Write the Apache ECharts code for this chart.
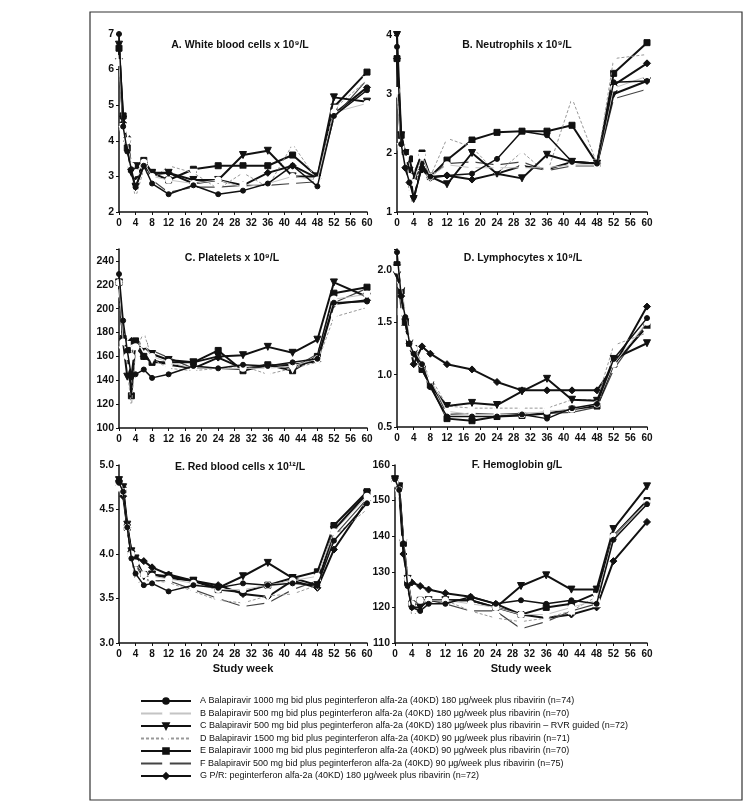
<!DOCTYPE html>
<html><head><meta charset="utf-8">
<script src="https://cdn.jsdelivr.net/npm/echarts@6/dist/echarts.min.js"></script>
<style>html,body{margin:0;padding:0;background:#fff}#c{width:750px;height:809px}</style>
</head><body><div id="c"></div>
<script>
const weeks = [0,1,2,3,4,6,8,12,18,24,30,36,42,48,52,60];
const xTicks = [0,4,8,12,16,20,24,28,32,36,40,44,48,52,56,60];
const groupNames = [
 'A Balapiravir 1000 mg bid plus peginterferon alfa-2a (40KD) 180 μg/week plus ribavirin (n=74)',
 'B Balapiravir 500 mg bid plus peginterferon alfa-2a (40KD) 180 μg/week plus ribavirin (n=70)',
 'C Balapiravir 500 mg bid plus peginterferon alfa-2a (40KD) 180 μg/week plus ribavirin – RVR guided (n=72)',
 'D Balapiravir 1500 mg bid plus peginterferon alfa-2a (40KD) 90 μg/week plus ribavirin (n=71)',
 'E Balapiravir 1000 mg bid plus peginterferon alfa-2a (40KD) 90 μg/week plus ribavirin (n=70)',
 'F Balapiravir 500 mg bid plus peginterferon alfa-2a (40KD) 90 μg/week plus ribavirin (n=75)',
 'G P/R: peginterferon alfa-2a (40KD) 180 μg/week plus ribavirin (n=72)'
];
const panelTitles = ['A. White blood cells x 10⁹/L','B. Neutrophils x 10⁹/L','C. Platelets x 10⁹/L','D. Lymphocytes x 10⁹/L','E. Red blood cells x 10¹²/L','F. Hemoglobin g/L'];

// A. White blood cells
const wbc_A = [7.0,4.4,3.7,3.2,2.7,3.3,2.8,2.5,2.75,2.5,2.6,2.8,3.3,2.72,4.7,5.42];
const wbc_B = [6.2,4.3,4.0,3.3,3.1,3.4,3.0,2.9,2.8,2.9,2.7,2.8,3.0,2.9,4.8,5.05];
const wbc_C = [6.7,4.6,3.9,3.1,2.7,3.3,3.1,3.1,2.9,2.9,3.6,3.72,3.0,3.0,5.22,5.1];
const wbc_D = [6.3,4.3,4.2,2.95,2.4,3.2,2.9,3.3,3.1,2.65,3.1,2.7,3.9,2.9,4.9,5.7];
const wbc_E = [6.6,4.7,3.8,3.2,3.3,3.45,3.1,2.9,3.2,3.3,3.3,3.3,3.6,3.0,4.95,5.93];
const wbc_F = [6.2,4.4,4.0,3.4,3.2,3.5,2.9,2.55,2.7,2.7,2.75,2.75,2.8,2.85,4.65,5.72];
const wbc_G = [6.3,4.5,4.1,3.2,3.0,3.3,3.05,3.1,2.8,2.9,2.75,3.1,3.3,2.95,4.75,5.5];
// B. Neutrophils
const neu_A = [3.8,2.15,1.75,1.5,1.25,1.75,1.6,1.62,1.65,1.9,2.37,2.3,1.85,1.82,3.2,3.22];
const neu_B = [3.05,2.1,1.9,1.6,1.5,1.95,1.6,1.8,1.75,1.75,1.75,1.75,1.8,1.8,3.1,3.3];
const neu_C = [4.0,2.3,2.0,1.7,1.22,1.8,1.6,1.47,2.0,1.65,1.57,1.97,1.85,1.82,3.0,3.22];
const neu_D = [3.05,2.1,1.9,1.3,1.1,1.95,1.6,2.25,2.1,1.65,2.02,1.65,2.93,1.82,3.6,3.67];
const neu_E = [3.6,2.3,2.0,1.9,1.6,2.0,1.6,1.88,2.22,2.35,2.37,2.37,2.47,1.82,3.35,3.87];
const neu_F = [3.0,2.1,1.85,1.75,1.65,2.0,1.6,1.82,1.85,1.8,1.85,1.7,1.78,1.78,2.92,3.08];
const neu_G = [3.6,2.15,1.75,1.5,1.6,1.72,1.58,1.62,1.55,1.65,1.78,1.72,1.85,1.82,3.15,3.52];
// C. Platelets
const plt_A = [229,190,165,143,145,149,142,145,152,150,153,152,155,158,205,206];
const plt_B = [222,172,160,160,168,170,160,155,150,150,150,150,152,158,208,212];
const plt_C = [222,172,143,143,170,168,162,157,155,160,161,168,163,174,222,210];
const plt_D = [213,165,150,117,165,180,158,150,148,150,152,145,150,155,193,201];
const plt_E = [222,175,165,127,173,160,155,155,155,165,148,153,148,160,213,218];
const plt_F = [213,170,170,160,176,167,165,159,150,150,149,154,150,162,205,217];
const plt_G = [222,172,165,173,168,160,157,153,150,159,150,152,153,156,204,207];
// D. Lymphocytes
const lym_A = [2.17,1.75,1.55,1.3,1.2,1.1,0.88,0.6,0.6,0.6,0.62,0.58,0.68,0.72,1.15,1.54];
const lym_B = [2.0,1.85,1.6,1.35,1.25,1.1,0.95,0.65,0.62,0.62,0.62,0.65,0.67,0.72,1.1,1.5];
const lym_C = [1.95,1.8,1.5,1.3,1.2,1.05,0.9,0.7,0.73,0.71,0.84,0.96,0.76,0.75,1.15,1.3];
const lym_D = [2.0,1.85,1.55,1.35,1.3,1.1,0.98,0.7,0.68,0.68,0.68,0.68,0.76,0.76,1.28,1.4];
const lym_E = [2.05,1.8,1.5,1.3,1.25,1.05,0.9,0.58,0.56,0.6,0.61,0.63,0.67,0.7,1.1,1.46];
const lym_F = [2.03,1.6,1.45,1.27,1.2,1.1,0.95,0.62,0.63,0.62,0.63,0.63,0.64,0.69,1.05,1.5];
const lym_G = [2.05,1.75,1.47,1.3,1.1,1.27,1.2,1.1,1.05,0.93,0.85,0.85,0.85,0.85,1.08,1.65];
// E. Red blood cells
const rbc_A = [4.8,4.7,4.3,3.95,3.78,3.65,3.67,3.58,3.65,3.62,3.67,3.65,3.67,3.65,4.15,4.57];
const rbc_B = [4.75,4.7,4.3,4.0,3.9,3.77,3.75,3.72,3.67,3.6,3.6,3.65,3.7,3.75,4.25,4.65];
const rbc_C = [4.83,4.75,4.33,4.03,3.95,3.75,3.77,3.75,3.7,3.62,3.75,3.9,3.73,3.65,4.27,4.68];
const rbc_D = [4.75,4.7,4.27,3.95,3.67,3.7,3.7,3.68,3.58,3.48,3.45,3.53,3.55,3.65,4.2,4.5];
const rbc_E = [4.8,4.72,4.3,4.0,3.9,3.77,3.77,3.73,3.7,3.6,3.57,3.65,3.73,3.8,4.32,4.7];
const rbc_F = [4.77,4.75,4.3,3.95,3.88,3.72,3.7,3.7,3.6,3.5,3.41,3.45,3.6,3.7,4.2,4.62];
const rbc_G = [4.82,4.65,4.3,4.03,3.95,3.92,3.85,3.77,3.7,3.65,3.55,3.52,3.7,3.62,4.05,4.6];
// F. Hemoglobin
const hgb_A = [156,153,138,126,120,119,121,121,123,121,122,121,122,121,139,149];
const hgb_B = [155,153,139,128,121,122,122,122,121,120,118,118,120,122,140,149.5];
const hgb_C = [156,154,138,128,120,120,122,122,122,120,126,129,125,125,142,154];
const hgb_D = [155,152,139,130,117,120,122,122,119,117,116,117,119,123,139,149];
const hgb_E = [156,154,138,127,121,122,122,122,122,120,118,120,121,124,140,150];
const hgb_F = [155,152,139,125,120,122,122,121,119,119,114,116,119,121,140,150];
const hgb_G = [156,153,135,128,127,126,125,124,123,121,118,117,118,120,133,144];

const panels = [
  [wbc_A,wbc_B,wbc_C,wbc_D,wbc_E,wbc_F,wbc_G],
  [neu_A,neu_B,neu_C,neu_D,neu_E,neu_F,neu_G],
  [plt_A,plt_B,plt_C,plt_D,plt_E,plt_F,plt_G],
  [lym_A,lym_B,lym_C,lym_D,lym_E,lym_F,lym_G],
  [rbc_A,rbc_B,rbc_C,rbc_D,rbc_E,rbc_F,rbc_G],
  [hgb_A,hgb_B,hgb_C,hgb_D,hgb_E,hgb_F,hgb_G]
];
const yRanges = [[2,7,1,0],[1,4,1,0],[100,250,20,0],[0.5,2.2,0.5,1],[3,5,0.5,1],[110,160,10,0]];
const gridPos = [
  {left:119,top:34,width:248,height:178},
  {left:397,top:35,width:250,height:177},
  {left:119,top:249,width:248,height:179},
  {left:397,top:249,width:250,height:178},
  {left:119,top:465,width:248,height:178},
  {left:395,top:465,width:252,height:178}
];
const titlePos = [[240,45],[517,45],[232,258],[523,258],[240,467],[517,465]];

const styles = [
  {symbol:'circle', size:5, color:'#111', width:1.5, type:'solid', rot:0},
  {symbol:'emptyCircle', size:5, color:'#c4c4c4', width:1, type:'solid', rot:0},
  {symbol:'triangle', size:7, color:'#111', width:2, type:'solid', rot:180},
  {symbol:'emptyTriangle', size:6, color:'#999', width:1, type:[3,2], rot:180},
  {symbol:'rect', size:6, color:'#111', width:2, type:'solid', rot:0},
  {symbol:'emptyRect', size:5, color:'#444', width:1.2, type:'solid', rot:0},
  {symbol:'diamond', size:7, color:'#111', width:2, type:'solid', rot:0}
];
const FONT = 'Liberation Sans, Arial, sans-serif';

const grid=[], xAxis=[], yAxis=[], series=[], graphic=[];
gridPos.forEach((g,i)=>{
  grid.push(Object.assign({containLabel:false},g));
  xAxis.push({type:'value', gridIndex:i, min:0, max:60, interval:4,
    axisLine:{lineStyle:{color:'#111',width:1.5}},
    axisTick:{show:true,length:3,lineStyle:{color:'#111'}},
    splitLine:{show:false},
    axisLabel:{color:'#111',fontSize:10,fontWeight:'bold',fontFamily:FONT,margin:6},
    name: i>=4 ? 'Study week' : '', nameLocation:'middle', nameGap:20,
    nameTextStyle:{color:'#111',fontSize:11,fontWeight:'bold',fontFamily:FONT}
  });
  const [mn,mx,iv,dec] = yRanges[i];
  yAxis.push({type:'value', gridIndex:i, min:mn, max:mx, interval:iv,
    axisLine:{show:true,lineStyle:{color:'#111',width:1.5}},
    axisTick:{show:true,length:3,lineStyle:{color:'#111'}},
    splitLine:{show:false},
    axisLabel:{color:'#111',fontSize:10.5,fontWeight:'bold',fontFamily:FONT,margin:5,
      formatter:(v)=>{ const r=(v-mn)/iv; if (Math.abs(r-Math.round(r))>1e-6) return ''; return dec? v.toFixed(dec): String(v); }}
  });
  graphic.push({type:'text', x:titlePos[i][0], y:titlePos[i][1],
    style:{text:panelTitles[i], fill:'#111', font:'bold 10.5px '+FONT, textAlign:'center', textVerticalAlign:'middle'}});
  panels[i].forEach((arr,k)=>{
    const s = styles[k];
    series.push({type:'line', name:groupNames[k], xAxisIndex:i, yAxisIndex:i,
      data: weeks.map((w,j)=>[w,arr[j]]),
      symbol:s.symbol, symbolSize:s.size, symbolRotate:s.rot,
      lineStyle:{color:s.color,width:s.width,type:s.type},
      itemStyle:{color: s.symbol.startsWith('empty') ? '#fff' : s.color, borderColor:s.color, borderWidth:1},
      z: 10-k, animation:false, silent:true});
  });
});
graphic.push({type:'rect', shape:{x:90,y:12,width:652,height:788}, style:{fill:'none',stroke:'#333',lineWidth:1.2}, z:-1});

const chart = echarts.init(document.getElementById('c'), null, {renderer:'canvas'});
chart.setOption({
  backgroundColor:'#fff',
  animation:false,
  grid, xAxis, yAxis, series, graphic,
  legend:{data:groupNames, orient:'vertical', left:140, top:696, itemWidth:50, itemHeight:7,
    itemGap:2.5, padding:0, selectedMode:false,
    textStyle:{color:'#111', fontSize:9, fontFamily:FONT, lineHeight:10, padding:[0,0,0,4]}}
});
</script></body></html>
